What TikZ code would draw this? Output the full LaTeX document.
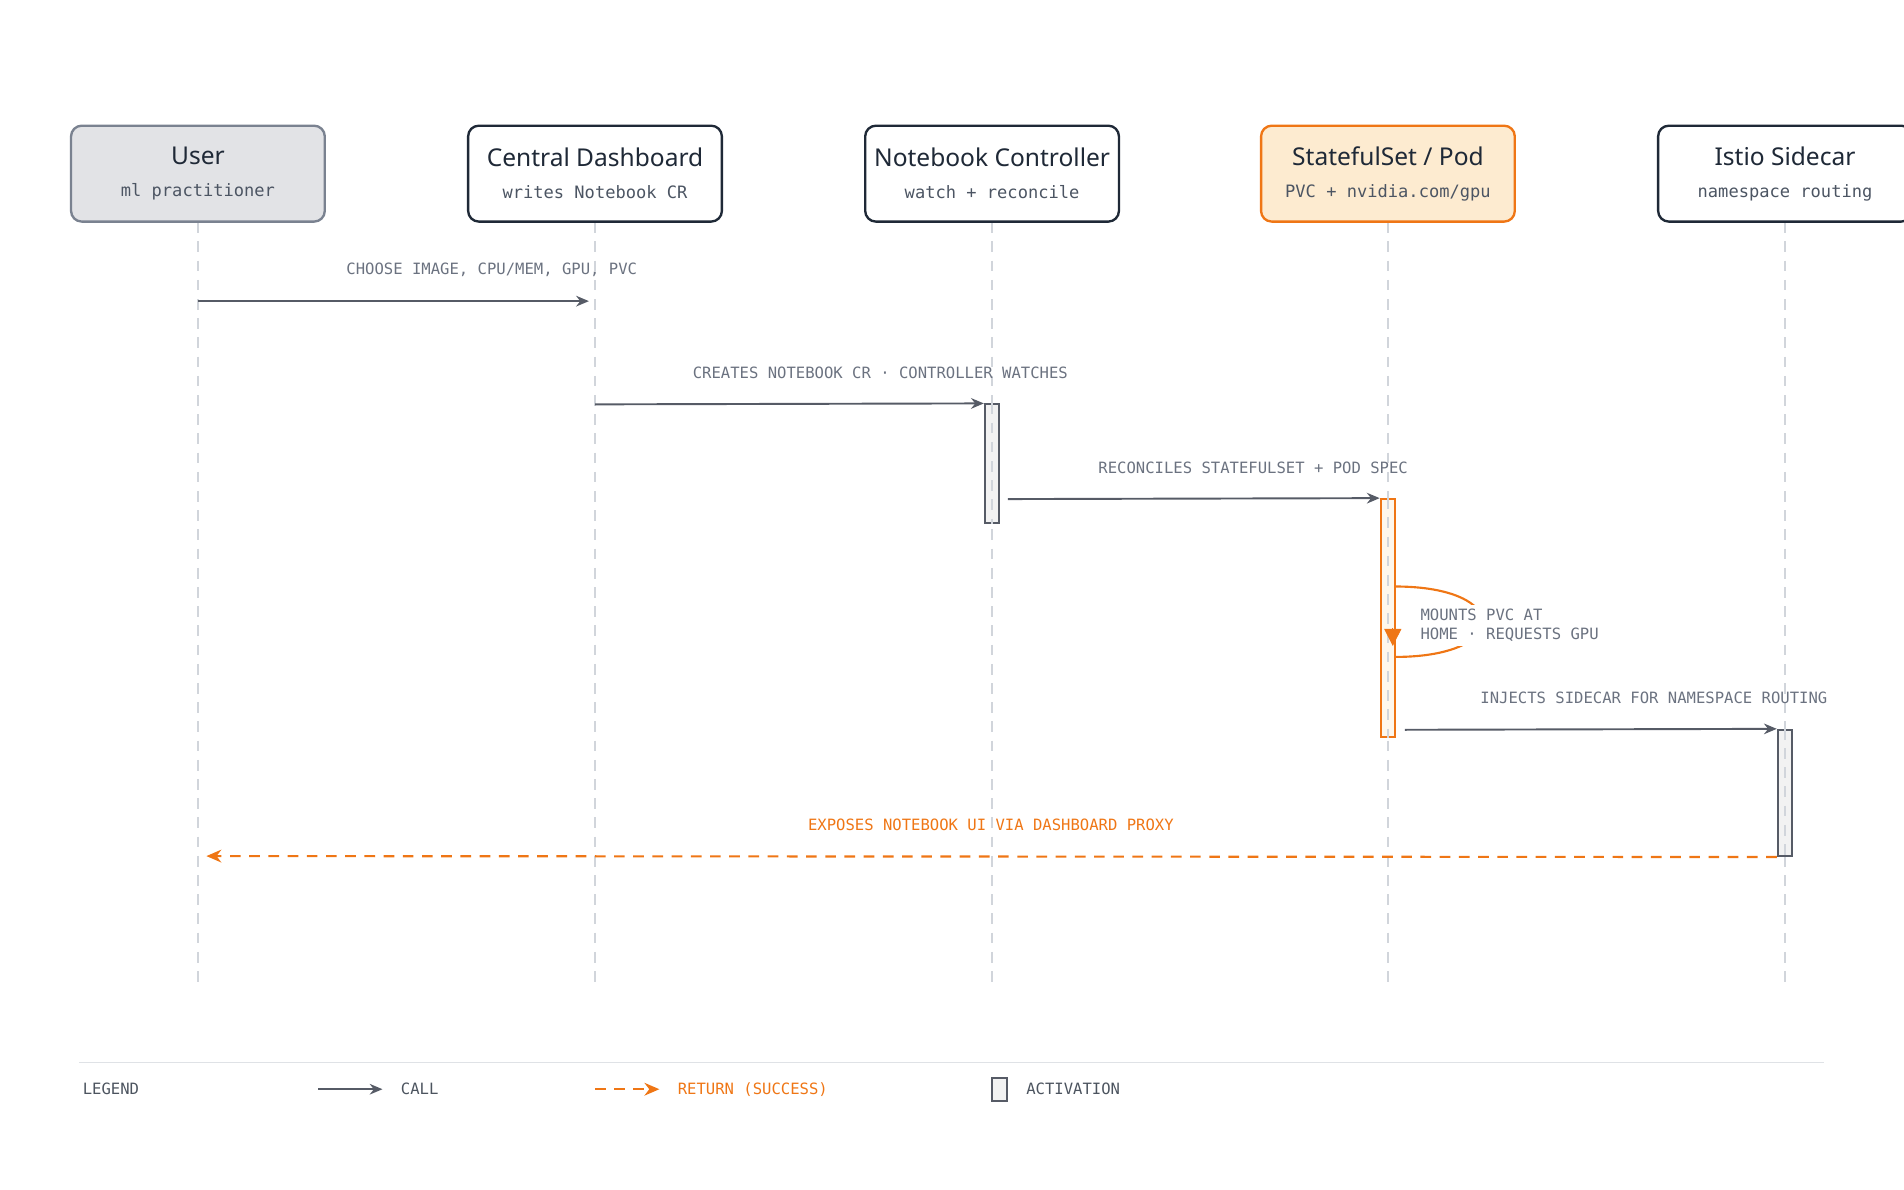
\documentclass[tikz,border=0pt]{standalone}
\usepackage{fontspec}
\setmainfont{Noto Sans}
\setmonofont{DejaVu Sans Mono}
\usetikzlibrary{positioning,arrows.meta}
\definecolor{ink}{HTML}{1F2937}
\definecolor{mute}{HTML}{6B7280}
\definecolor{accent}{HTML}{EF7615}
\definecolor{accentfill}{HTML}{FDEBD0}
\definecolor{userfill}{HTML}{E2E3E6}
\definecolor{userline}{HTML}{7A8290}
\definecolor{life}{HTML}{D1D5DB}
\tikzset{
  actor/.style={draw=ink, line width=1.1pt, rounded corners=5pt, fill=white,
    minimum width=4.18cm, minimum height=1.58cm, align=center},
  ttl/.style={font=\fontsize{11.5}{13}\selectfont\bfseries, text=ink},
  msg/.style={font=\ttfamily\fontsize{7.3}{9}\selectfont, text=mute},
  call/.style={draw=mute!80!black, line width=0.9pt, -{Stealth[length=6pt,width=5pt]}},
  ret/.style={draw=accent, line width=1pt, dashed, dash pattern=on 5pt off 4pt, -{Stealth[length=7pt,width=6pt]}},
  lifeline/.style={draw=life, line width=0.9pt, dash pattern=on 5pt off 4pt},
  act/.style={draw=mute!80!black, line width=0.9pt, fill=gray!10},
}
\newcommand{\actorbox}[5]{%
  \node[actor,#5] (#1) at (#2,-143) {\fontsize{11.5}{13}\selectfont\bfseries #3\\[3pt]\ttfamily\fontsize{8}{9}\selectfont\color{mute!60!ink}#4};}
\begin{document}
\begin{tikzpicture}[x=0.02cm,y=0.02cm]
\useasboundingbox (0,0) rectangle (1568,-980);

% lifelines
\foreach \x/\n in {163/u,490/d,817/c,1143/s,1470/i}{
  \coordinate (\n top) at (\x,-183);
  \coordinate (\n bot) at (\x,-815);
  \draw[lifeline] (\n top) -- (\n bot);
}

% participants
\actorbox{user}{163}{User}{ml practitioner}{fill=userfill, draw=userline, text=ink}
\actorbox{dash}{490}{Central Dashboard}{writes Notebook CR}{text=ink}
\actorbox{ctrl}{817}{Notebook Controller}{watch + reconcile}{text=ink}
\actorbox{sts}{1143}{StatefulSet / Pod}{PVC + nvidia.com/gpu}{fill=accentfill, draw=accent, text=ink}
\actorbox{isto}{1470}{Istio Sidecar}{namespace routing}{text=ink}

% activations
\node[act, minimum width=0.24cm, minimum height=1.96cm, inner sep=0pt] (actc) at (817,-382) {};
\node[act, draw=accent, fill=accentfill!40, minimum width=0.24cm, minimum height=3.92cm, inner sep=0pt] (acts) at (1143,-509) {};
\node[act, minimum width=0.24cm, minimum height=2.08cm, inner sep=0pt] (acti) at (1470,-653) {};
\foreach \n/\a/\b in {c/333/431,s/411/607,i/601/705}
  \draw[lifeline] (act\n.north) -- (act\n.south);

% messages
\coordinate (m1a) at (163,-248); \coordinate (m1b) at (485,-248);
\draw[call] (m1a) -- (m1b);
\node[msg] (l1) at (405,-222) {CHOOSE IMAGE, CPU/MEM, GPU, PVC};

\coordinate (m2a) at (490,-333);
\draw[call] (m2a) -- (actc.north west);
\node[msg] (l2) at (725,-307) {CREATES NOTEBOOK CR · CONTROLLER WATCHES};

\coordinate (m3a) at (830,-411);
\draw[call] (m3a) -- (acts.north west);
\node[msg] (l3) at (1032,-385) {RECONCILES STATEFULSET + POD SPEC};

% self call
\coordinate (sa) at (1149,-483); \coordinate (sb) at (1149,-541);
\draw[accent, line width=1pt] (sa) .. controls (1245,-483) and (1245,-541) .. (sb);
\node[msg, fill=white, align=left, anchor=west, inner sep=2pt] (l4) at (1166,-515) {MOUNTS PVC AT\\HOME · REQUESTS GPU};
\coordinate (tipa) at (1147,-517); \coordinate (tipb) at (1147,-532);
\draw[accent, -{Triangle[length=8pt,width=8pt]}] (tipa) -- (tipb);

\coordinate (m5a) at (1157,-601);
\draw[call] (m5a) -- (acti.north west);
\node[msg] (l5) at (1362,-575) {INJECTS SIDECAR FOR NAMESPACE ROUTING};

% return
\coordinate (r1) at (170,-705);
\draw[ret] (acti.south west) -- (r1);
\node[msg, text=accent] (l6) at (816,-679) {EXPOSES NOTEBOOK UI VIA DASHBOARD PROXY};

% legend
\coordinate (ga) at (65,-875); \coordinate (gb) at (1502,-875);
\draw[life!70, line width=0.8pt] (ga) -- (gb);
\node[msg, text=ink!80, anchor=west] (leg) at (62,-897) {LEGEND};
\coordinate (ca) at (262,-897); \coordinate (cb) at (315,-897);
\draw[call] (ca) -- (cb);
\node[msg, text=ink!80, anchor=west] (lc) at (324,-897) {CALL};
\coordinate (ra) at (490,-897); \coordinate (rb) at (543,-897);
\draw[ret] (ra) -- (rb);
\node[msg, text=accent, anchor=west] (lr) at (552,-897) {RETURN (SUCCESS)};
\node[act, minimum width=0.24cm, minimum height=0.38cm, inner sep=0pt] (la) at (823,-897) {};
\node[msg, text=ink!80, anchor=west] (lact) at (839,-897) {ACTIVATION};
\end{tikzpicture}
\end{document}
